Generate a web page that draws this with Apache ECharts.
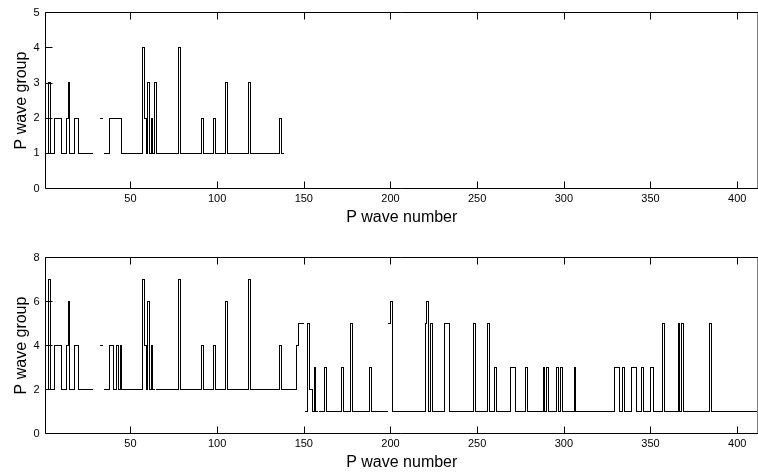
<!DOCTYPE html>
<html><head><meta charset="utf-8">
<script src="https://cdn.jsdelivr.net/npm/echarts@6/dist/echarts.min.js"></script>
<style>html,body{margin:0;padding:0;background:#fff}#c{width:758px;height:476px}</style>
</head><body><div id="c"></div>
<script>
// P wave group per P wave number (starting at P wave 1); null = missing
const topGroup = [
 1,1,3,1,1,2,2,2,2,1,
 1,1,2,3,1,1,1,2,2,1,
 1,1,1,1,1,1,1,null,null,null,
 null,null,2,null,1,1,1,2,2,2,
 2,2,2,2,1,1,1,1,1,1,
 1,1,1,1,1,1,4,2,1,3,
 1,2,1,3,1,1,1,1,1,1,
 1,1,1,1,1,1,1,4,1,1,
 1,1,1,1,1,1,1,1,1,1,
 2,1,1,1,1,1,1,2,1,1,
 1,1,1,1,3,1,1,1,1,1,
 1,1,1,1,1,1,1,3,1,1,
 1,1,1,1,1,1,1,1,1,1,
 1,1,1,1,1,2,1,1
];
const bottomGroup = [
 2,2,7,2,2,4,4,4,4,2,
 2,2,4,6,2,2,2,4,4,2,
 2,2,2,2,2,2,2,null,null,null,
 null,null,4,null,2,2,2,4,4,2,
 2,4,2,4,2,2,2,2,2,2,
 2,2,2,2,2,2,7,4,2,6,
 2,4,2,null,2,2,2,2,2,2,
 2,2,2,2,2,2,2,7,2,2,
 2,2,2,2,2,2,2,2,2,2,
 4,2,2,2,2,2,2,4,2,2,
 2,2,2,2,6,2,2,2,2,2,
 2,2,2,2,2,2,2,7,2,2,
 2,2,2,2,2,2,2,2,2,2,
 2,2,2,2,2,4,2,2,2,2,
 2,2,2,2,2,4,5,5,5,null,
 1,5,2,2,1,3,1,null,1,1,
 1,3,1,1,1,1,1,1,1,1,
 1,3,1,1,1,1,5,1,1,1,
 1,1,1,1,1,1,1,3,1,1,
 1,1,1,1,1,1,1,null,5,6,
 1,1,1,1,1,1,1,1,1,1,
 1,1,1,1,1,1,1,1,1,5,
 6,1,5,1,1,1,1,1,1,1,
 5,5,5,1,1,1,1,1,1,1,
 1,1,1,1,1,1,1,5,1,1,
 1,1,1,1,1,5,1,1,1,3,
 1,1,1,1,1,1,1,1,3,3,
 3,1,1,1,1,1,1,3,1,1,
 1,1,1,1,1,1,1,3,1,3,
 1,1,1,1,1,3,1,3,1,1,
 1,1,1,1,1,3,1,1,1,1,
 1,1,1,1,1,1,1,1,1,1,
 1,1,1,1,1,1,1,1,3,3,
 3,1,1,3,1,1,1,1,3,3,
 3,1,1,1,3,1,1,1,1,3,
 3,1,1,1,1,1,5,1,1,1,
 1,1,1,1,1,5,1,5,1,1,
 1,1,1,1,1,1,1,1,1,1,
 1,1,1,5,1,1,1,1,1,1,
 1,1,1,1,1,1,1,1,1,1,
 1,1,1,1,1,1,1,1,1,1,
 1
];
const xTicks = [50,100,150,200,250,300,350,400];
const xLabel = 'P wave number';
const yLabel = 'P wave group';
const firstWave = 1;

// Matlab-style stairs segments [x1,y1,x2,y2]: each value holds from its
// P wave number to the next one, then a vertical riser to the next value.
function stairSegments(vals){
  const segs=[];
  for(let i=0;i<vals.length;i++){
    const x = firstWave+i, y = vals[i];
    if(y===null || i===vals.length-1) continue;
    segs.push([x, y, x+1, y]);
    const n = vals[i+1];
    if(n!==null && n!==y) segs.push([x+1, y, x+1, n]);
  }
  return segs;
}

const FONT = '"Liberation Sans", Arial, Helvetica, sans-serif';
const chart = echarts.init(document.getElementById('c'), null, {renderer:'canvas'});

function snap(v){ return Math.floor(v)+0.5; }
function renderSeg(params, api){
  const p1 = api.coord([api.value(0), api.value(1)]);
  const p2 = api.coord([api.value(2), api.value(3)]);
  return {type:'line', silent:true,
    shape:{x1:snap(p1[0]), y1:snap(p1[1]), x2:snap(p2[0]), y2:snap(p2[1])},
    style:{stroke:'#000', lineWidth:1, lineCap:'square'}};
}

function xAxes(g){
  return [
    {gridIndex:g, type:'value', min:1, max:412, position:'bottom',
     axisLine:{show:false}, splitLine:{show:false},
     axisTick:{inside:true, length:7, customValues:xTicks, lineStyle:{color:'#000'}},
     axisLabel:{customValues:xTicks, color:'#000', fontSize:11, margin:5, fontFamily:FONT},
     name:xLabel, nameLocation:'middle', nameGap:21, nameMoveOverlap:false,
     nameTextStyle:{color:'#000', fontSize:16, fontFamily:FONT}},
    {gridIndex:g, type:'value', min:1, max:412, position:'top',
     axisLine:{show:false}, splitLine:{show:false},
     axisTick:{inside:true, length:7, customValues:xTicks, lineStyle:{color:'#000'}},
     axisLabel:{show:false}}
  ];
}
function yAxis(g, max, interval){
  return {gridIndex:g, type:'value', min:0, max:max, interval:interval, position:'left',
    axisLine:{show:false}, splitLine:{show:false},
    axisTick:{inside:true, length:7, lineStyle:{color:'#000'}},
    axisLabel:{color:'#000', fontSize:11, margin:6, fontFamily:FONT},
    name:yLabel, nameLocation:'middle', nameGap:16, nameMoveOverlap:false,
    nameTextStyle:{color:'#000', fontSize:16, fontFamily:FONT}};
}

chart.setOption({
  animation:false,
  backgroundColor:'#fff',
  grid:[
    {left:45.5, top:12.5, width:714, height:176, show:true, borderColor:'#000', borderWidth:1, containLabel:false},
    {left:45.5, top:257.5, width:714, height:176, show:true, borderColor:'#000', borderWidth:1, containLabel:false}
  ],
  xAxis:[...xAxes(0), ...xAxes(1)],
  yAxis:[yAxis(0,5,1), yAxis(1,8,2)],
  series:[
    {type:'custom', xAxisIndex:0, yAxisIndex:0, data:stairSegments(topGroup),
     encode:{x:[0,2], y:[1,3]}, renderItem:renderSeg, silent:true, clip:true},
    {type:'custom', xAxisIndex:2, yAxisIndex:1, data:stairSegments(bottomGroup),
     encode:{x:[0,2], y:[1,3]}, renderItem:renderSeg, silent:true, clip:true}
  ]
});
</script></body></html>
